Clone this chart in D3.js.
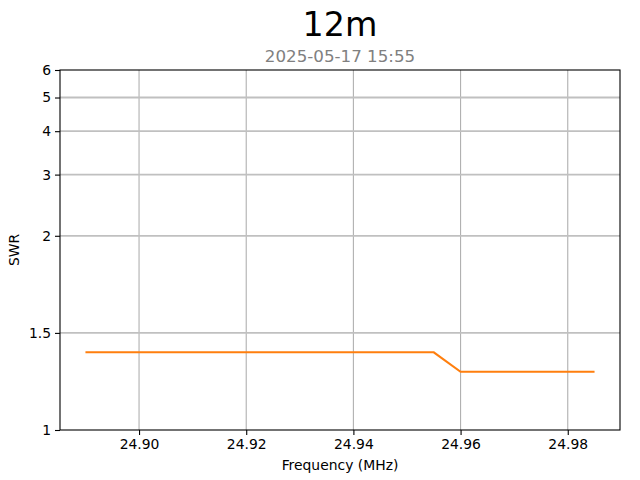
<!DOCTYPE html>
<html><head><meta charset="utf-8">
<script src="https://cdn.jsdelivr.net/npm/d3@7"></script>
<style>body{margin:0;background:#fff}svg{display:block}text{font-family:"DejaVu Sans",sans-serif}</style>
</head><body><svg id="c" width="640" height="480"></svg>
<script>
const title = "12m";
const subtitle = "2025-05-17 15:55";
const freqs = [24.890,24.895,24.900,24.905,24.910,24.915,24.920,24.925,24.930,24.935,24.940,24.945,24.950,24.955,24.960,24.965,24.970,24.975,24.980,24.985];
const swr   = [1.4,1.4,1.4,1.4,1.4,1.4,1.4,1.4,1.4,1.4,1.4,1.4,1.4,1.4,1.3,1.3,1.3,1.3,1.3,1.3];
const xTicks = [24.90,24.92,24.94,24.96,24.98];
const yTicks = [1,1.5,2,3,4,5,6];
const yTickLabels = ["1","1.5","2","3","4","5","6"];

const svg = d3.select("#c");
const L=60,R=620,T=70,B=430;
const xmin=d3.min(freqs), xmax=d3.max(freqs), pad=(xmax-xmin)*0.05;
const x = d3.scaleLinear().domain([xmin-pad,xmax+pad]).range([L,R]);
// piecewise SWR transform: linear up to 2, logarithmic above
const tf = s => s<=2 ? s-1 : 1+0.777*Math.log(s/2);
const yl = d3.scaleLinear().domain([tf(1),tf(6)]).range([B,T]);
const y = s => yl(tf(s));

// grid
svg.append("g").selectAll("line").data(xTicks).join("line")
  .attr("x1",d=>x(d)).attr("x2",d=>x(d)).attr("y1",T).attr("y2",B)
  .attr("stroke","#b0b0b0").attr("stroke-width",1.1);
svg.append("g").selectAll("line").data(yTicks.filter(d=>d>1&&d<6)).join("line")
  .attr("x1",L).attr("x2",R).attr("y1",d=>y(d)).attr("y2",d=>y(d))
  .attr("stroke","#c0c0c0").attr("stroke-width",1.8);

// line
svg.append("path").datum(freqs.map((f,i)=>[f,swr[i]]))
  .attr("d",d3.line().x(d=>x(d[0])).y(d=>y(d[1])))
  .attr("fill","none").attr("stroke","#ff7f0e").attr("stroke-width",2.1);

// spines
svg.append("rect").attr("x",L).attr("y",T).attr("width",R-L).attr("height",B-T)
  .attr("fill","none").attr("stroke","#000").attr("stroke-width",1.1);

// x axis
const xa = svg.append("g").attr("transform",`translate(0,${B})`)
  .call(d3.axisBottom(x).tickValues(xTicks).tickFormat(d3.format(".2f")).tickSize(5).tickPadding(4));
xa.select(".domain").remove();
xa.selectAll("text").attr("font-size",13.9).attr("fill","#000").attr("font-family","DejaVu Sans");
// y axis
const yAxisScale = d3.scaleLinear().domain(yl.domain()).range(yl.range());
const ya = svg.append("g").attr("transform",`translate(${L},0)`)
  .call(d3.axisLeft(yAxisScale).tickValues(yTicks.map(tf)).tickFormat((d,i)=>yTickLabels[i]).tickSize(5).tickPadding(4));
ya.select(".domain").remove();
ya.selectAll("text").attr("font-size",13.9).attr("fill","#000").attr("font-family","DejaVu Sans");
svg.selectAll(".tick line").attr("stroke","#000").attr("stroke-width",1.1);

// labels
svg.append("text").attr("x",(L+R)/2).attr("y",470).attr("text-anchor","middle")
  .attr("font-size",13.9).text("Frequency (MHz)");
svg.append("text").attr("transform",`translate(19,${(T+B)/2}) rotate(-90)`).attr("text-anchor","middle")
  .attr("font-size",13.9).text("SWR");
svg.append("text").attr("x",340).attr("y",36).attr("text-anchor","middle")
  .attr("font-size",33.3).text(title);
svg.append("text").attr("x",340).attr("y",62).attr("text-anchor","middle")
  .attr("font-size",16.7).attr("fill","#808080").text(subtitle);
</script></body></html>
